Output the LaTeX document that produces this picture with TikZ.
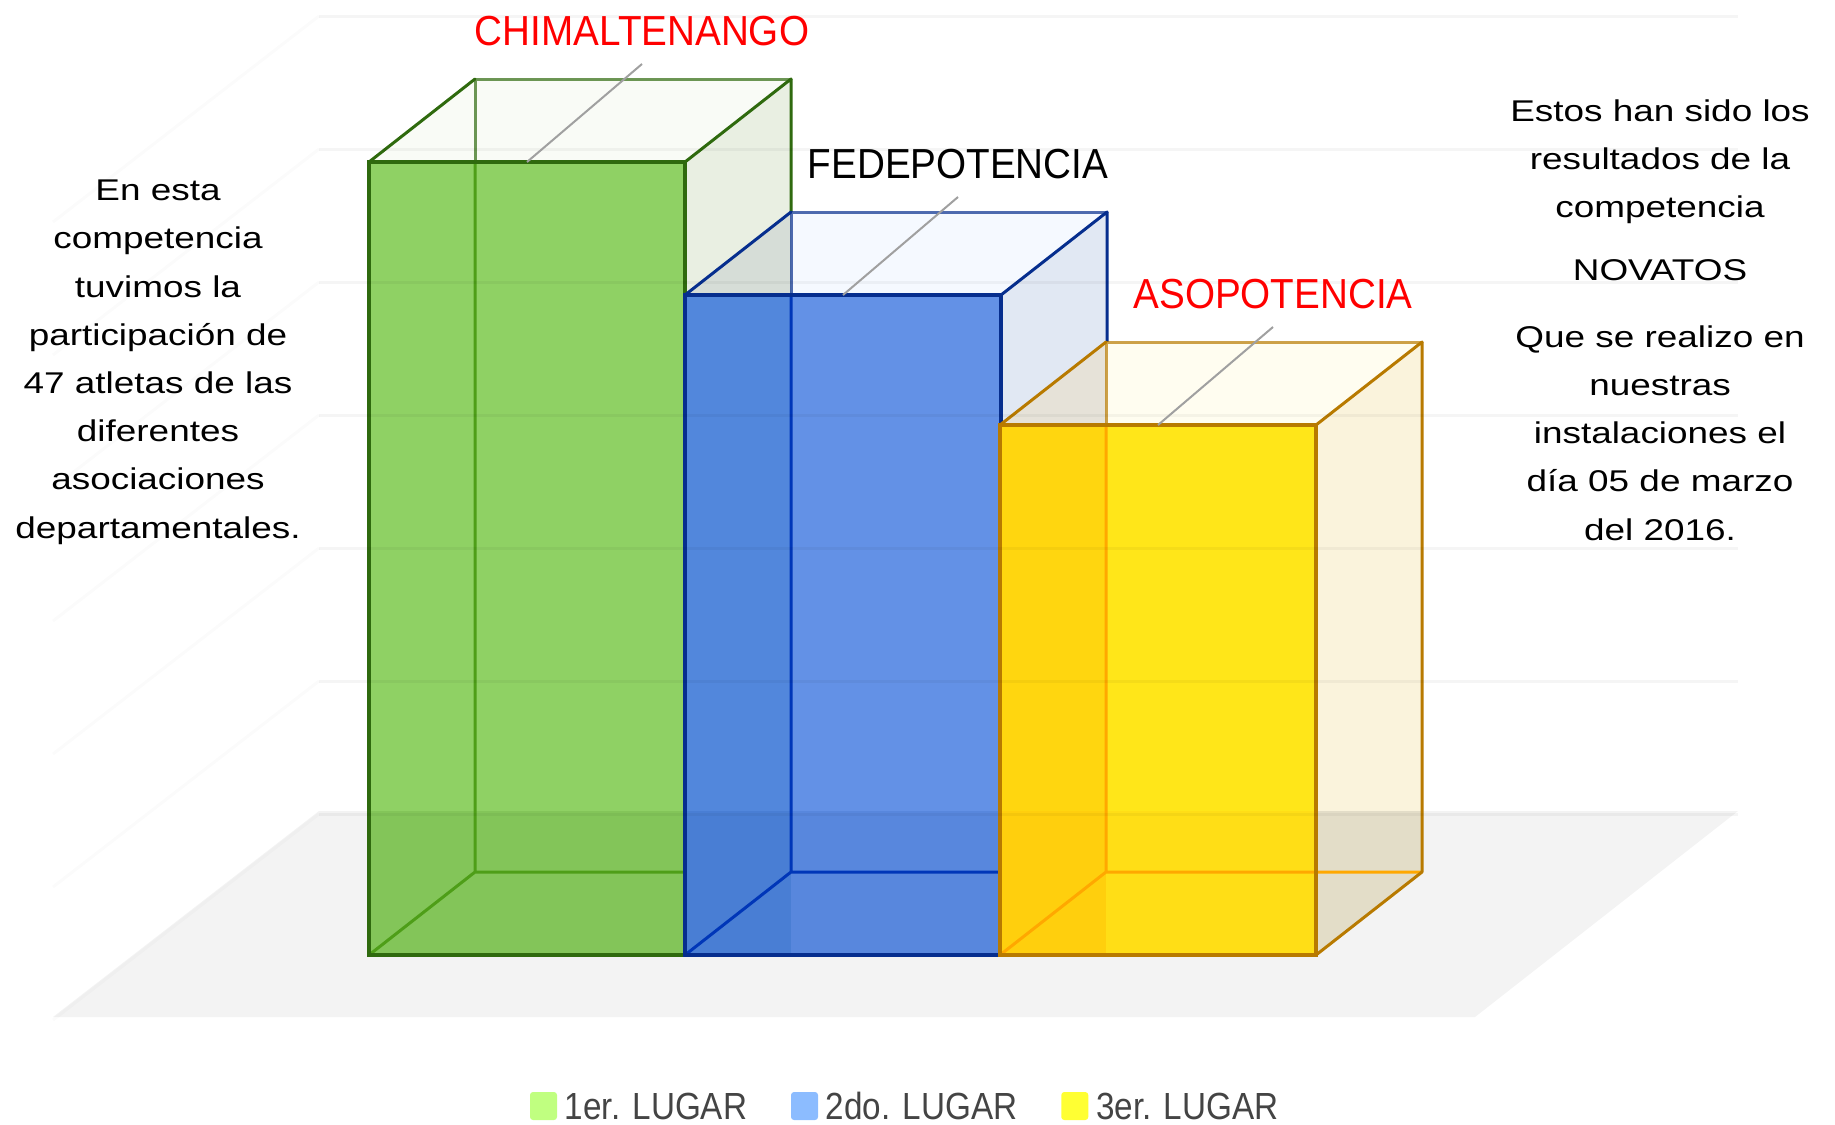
\documentclass[tikz,border=0pt]{standalone}
\usepackage{fontspec}
\setmainfont{Liberation Sans}
\newfontfamily\textofont[FakeStretch=1.23]{Liberation Sans}
\newfontfamily\etiqfont[FakeStretch=0.92]{Liberation Sans}
\newfontfamily\leyfont[FakeStretch=0.88]{Liberation Sans}
\usetikzlibrary{positioning}

\definecolor{pisogris}{HTML}{F3F3F3}
\definecolor{guiagris}{HTML}{A0A0A0}
\definecolor{leytexto}{HTML}{444444}
% verde
\definecolor{ladog}{HTML}{E9EFE2}
\definecolor{tapag}{HTML}{F9FBF6}
\definecolor{izqg}{HTML}{F9FBF6}
\definecolor{frenteg}{HTML}{8FD164}
\definecolor{franjag}{HTML}{8FD164}
\definecolor{tinteg}{HTML}{216300}
\definecolor{interiorg}{HTML}{4E9E18}
\definecolor{bordeg}{HTML}{2F6A0E}
% azul
\definecolor{ladob}{HTML}{E1E8F3}
\definecolor{tapab}{HTML}{F5F9FF}
\definecolor{izqb}{HTML}{D6DDD7}
\definecolor{frenteb}{HTML}{6391E6}
\definecolor{franjab}{HTML}{5287DC}
\definecolor{tinteb}{HTML}{003796}
\definecolor{interiorb}{HTML}{0036B8}
\definecolor{bordeb}{HTML}{062E8E}
% amarillo
\definecolor{ladoy}{HTML}{FAF3DC}
\definecolor{tapay}{HTML}{FFFDF0}
\definecolor{izqy}{HTML}{E6E2D8}
\definecolor{frentey}{HTML}{FFE619}
\definecolor{franjay}{HTML}{FFD60F}
\definecolor{tintey}{HTML}{FF9900}
\definecolor{interiory}{HTML}{FFA800}
\definecolor{bordey}{HTML}{B87A00}
% leyenda
\definecolor{leyg}{HTML}{C0FF80}
\definecolor{leyb}{HTML}{8CBCFF}
\definecolor{leyy}{HTML}{FFFF33}

\tikzset{
  arista/.style={line width=1.5pt, line join=round, line cap=round},
  contorno/.style={line width=2pt},
  oculta/.style={line width=1.5pt},
  rejilla/.style={draw=black, draw opacity=.04, line width=1.5pt},
  guia/.style={draw=guiagris, line width=1pt},
  etiqueta/.style={inner sep=0pt, font=\etiqfont\fontsize{21}{25}\selectfont},
  texto/.style={align=center, inner sep=0pt, font=\textofont\fontsize{15}{24.1}\selectfont},
  muestra/.style={minimum width=13.5pt, minimum height=14pt, inner sep=0pt, rounded corners=1.5pt},
  leyenda/.style={inner sep=0pt, text=leytexto, font=\leyfont\fontsize{18.9}{22}\selectfont}
}

\begin{document}
\begin{tikzpicture}[x=0.5pt, y=-0.5pt]
    \useasboundingbox (0,0) rectangle (1835,1124);

    % piso
    \fill[pisogris] (319,811) -- (1738,811) -- (1475,1017) -- (53,1017) -- cycle;

    % barras
    \foreach \nm/\xa/\yt in {g/369/162, b/685/295, y/1000/425}{
      \fill[lado\nm] (\xa+316,955) -- (\xa+422,872) -- (\xa+422,\yt-83) -- (\xa+316,\yt) -- cycle;
      \fill[tapa\nm] (\xa,\yt) -- (\xa+316,\yt) -- (\xa+422,\yt-83) -- (\xa+106,\yt-83) -- cycle;
      \fill[izq\nm] (\xa,955) -- (\xa+106,872) -- (\xa+106,\yt-83) -- (\xa,\yt) -- cycle;
      \fill[frente\nm] (\xa,\yt) rectangle (\xa+316,955);
      \fill[franja\nm] (\xa,\yt) rectangle (\xa+106,955);
      % sombra del piso
      \begin{scope}
        \clip (0,811) rectangle (1835,1124);
        \fill[tinte\nm, opacity=.1] (\xa,\yt) rectangle (\xa+316,955);
        \fill[black, opacity=.09] (\xa+316,955) -- (\xa+422,872) -- (\xa+422,\yt-83) -- (\xa+316,\yt) -- cycle;
      \end{scope}
      % aristas de atras
      \draw[oculta, interior\nm] (\xa+106,\yt) -- (\xa+106,872) -- (\xa+422,872)
        (\xa,955) -- (\xa+106,872);
      \draw[arista, borde\nm, draw opacity=.7] (\xa+106,\yt) -- (\xa+106,\yt-83) -- (\xa+422,\yt-83);
      \draw[arista, borde\nm] (\xa,\yt) -- (\xa+106,\yt-83)
        (\xa+316,\yt) -- (\xa+422,\yt-83) -- (\xa+422,872) -- (\xa+316,955);
      \draw[contorno, borde\nm] (\xa,\yt) rectangle (\xa+316,955);
      \coordinate (base\nm) at (\xa+158,\yt);
      \coordinate (punta\nm) at (\xa+273,\yt-98);
    }

    % rejilla de la pared
    \foreach \yy in {16,149,...,814}{
      \draw[rejilla] (319,\yy) -- (1738,\yy);
      \draw[rejilla, draw opacity=.015] (53,\yy+206) -- (319,\yy);
    }

    % etiquetas
    \foreach \nm in {g,b,y}
      \draw[guia] (base\nm) -- (punta\nm);
    \node[etiqueta, text=red, above=9pt of puntag] (lblg) {CHIMALTENANGO};
    \node[etiqueta, above=9pt of puntab] (lblb) {FEDEPOTENCIA};
    \node[etiqueta, text=red, above=9pt of puntay] (lbly) {ASOPOTENCIA};

    % textos
    \node[texto, anchor=base] (izquierda) at (158,538)
      {En esta\\competencia\\tuvimos la\\participación de\\47 atletas de las\\diferentes\\asociaciones\\departamentales.};
    \node[texto, anchor=base] (derecha) at (1660,540)
      {Estos han sido los\\resultados de la\\competencia\\[7.3pt]NOVATOS\\[9.3pt]Que se realizo en\\nuestras\\instalaciones el\\día 05 de marzo\\del 2016.};

    % leyenda
    \node[muestra, fill=leyg] (m1) at (543.5,1106) {};
    \node[leyenda, right=3.5pt of m1] (t1) {1er. LUGAR};
    \node[muestra, fill=leyb, right=21.5pt of t1] (m2) {};
    \node[leyenda, right=3.5pt of m2] (t2) {2do. LUGAR};
    \node[muestra, fill=leyy, right=21.5pt of t2] (m3) {};
    \node[leyenda, right=3.5pt of m3] (t3) {3er. LUGAR};
\end{tikzpicture}
\end{document}
